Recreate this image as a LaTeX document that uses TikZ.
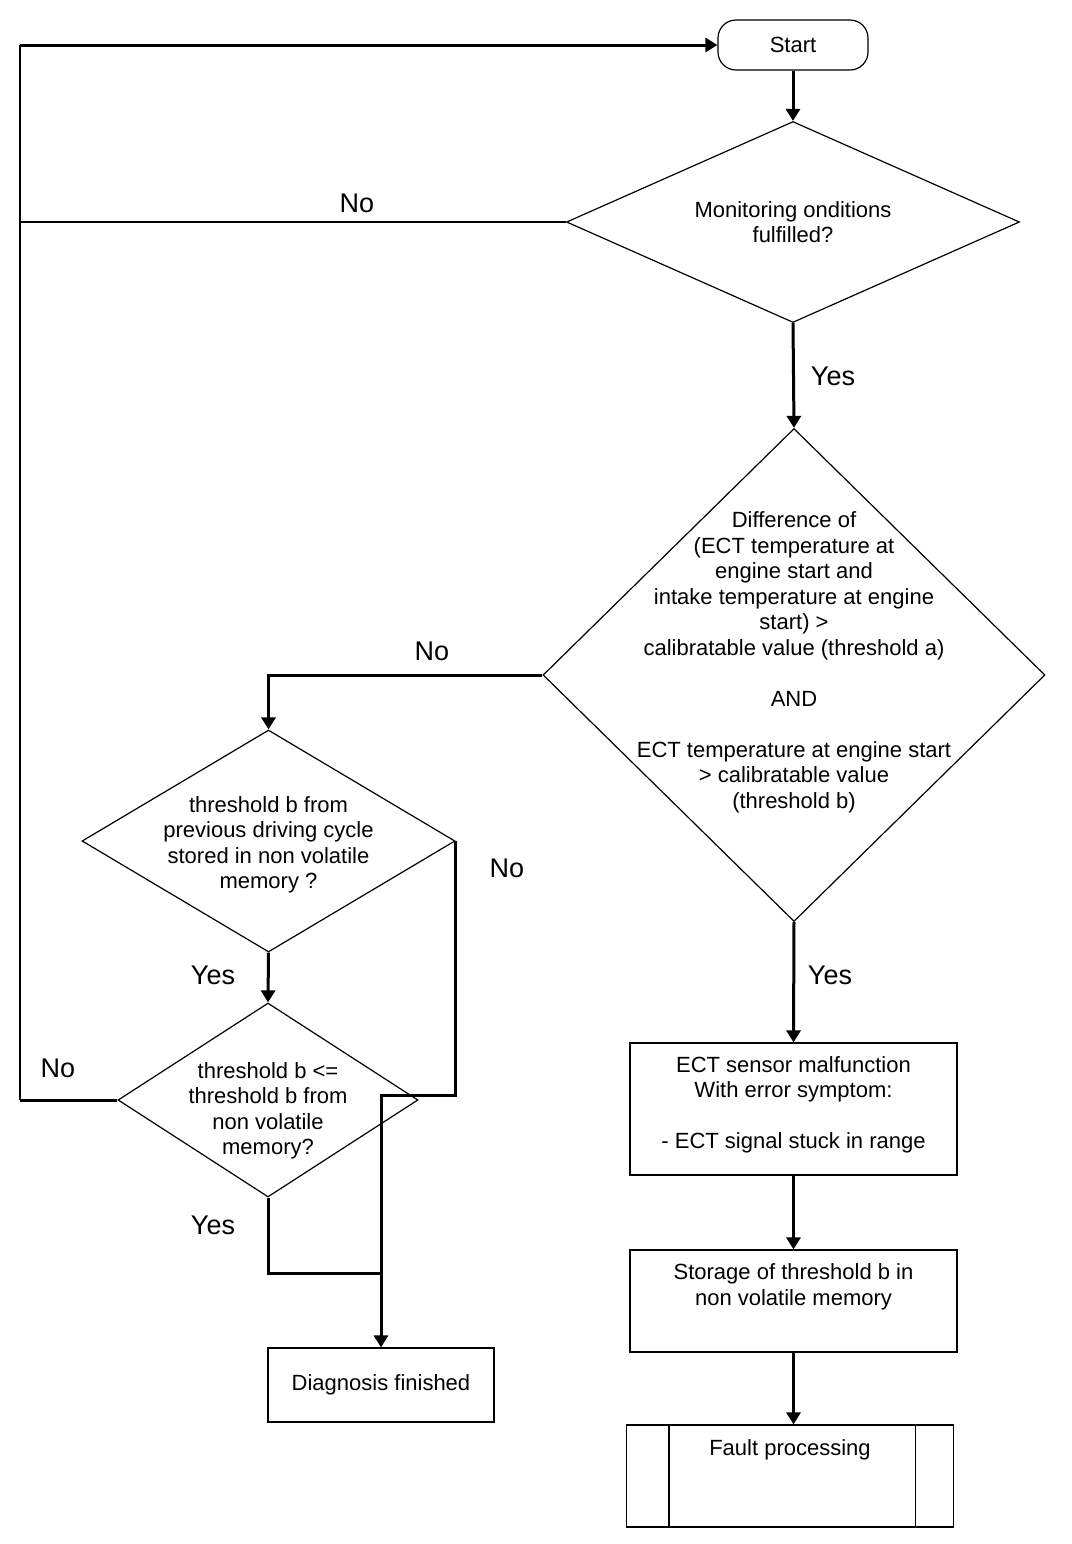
\documentclass[tikz,border=0pt]{standalone}
\usepackage{fontspec}
\setmainfont{Liberation Sans}
\usetikzlibrary{shapes.geometric,arrows.meta,calc}
\begin{document}
\begin{tikzpicture}[x=0.5pt,y=-0.5pt,
  shp/.style={draw,line width=0.6pt,inner sep=0pt},
  dia/.style={shp,diamond},
  box/.style={shp,rectangle},
  txt/.style={align=center,font=\fontsize{11}{12.75}\selectfont,inner sep=0pt},
  lbl/.style={font=\fontsize{13.5}{15}\selectfont,inner sep=0pt},
  flow/.style={line width=1.5pt},
  thinflow/.style={line width=0.6pt},
  arr/.style={flow,-{Triangle[length=6pt,width=7pt]}}]
\useasboundingbox (0,0) rectangle (1072,1544);

% nodes
\node[shp,rounded corners=9pt,minimum width=75pt,minimum height=25pt,
      font=\fontsize{11}{12.75}\selectfont] (start) at (793,45) {Start};

\node[dia,minimum width=226.5pt,minimum height=100.5pt] (d1) at (793,222) {};
\node[txt] (t1) at (d1) {Monitoring onditions\\fulfilled?};

\node[dia,minimum width=251pt,minimum height=246.5pt] (d2) at (794,675) {};
\node[txt] (t2) at ([yshift=6.25pt]d2.center) {Difference of\\(ECT temperature at\\engine start and\\intake temperature at engine\\start) >\\calibratable value (threshold a)\\[12.75pt]AND\\[12.75pt]ECT temperature at engine start\\> calibratable value\\(threshold b)};

\node[dia,minimum width=186.5pt,minimum height=111pt] (d3) at (268.5,841) {};
\node[txt] (t3) at ([yshift=-2pt]d3.center) {threshold b from\\previous driving cycle\\stored in non volatile\\memory ?};

\node[dia,minimum width=150pt,minimum height=97pt] (d4) at (268,1100) {};
\node[txt] (t4) at ([yshift=-5.5pt]d4.center) {threshold b <=\\threshold b from\\non volatile\\memory?};

\node[box,minimum width=113pt,minimum height=37pt] (diag) at (381,1385) {};
\node[txt] (t5) at (diag) {Diagnosis finished};

\node[box,minimum width=163.5pt,minimum height=66pt] (ect) at (793.5,1109) {};
\node[txt] (t6) at ([yshift=2pt]ect.center) {ECT sensor malfunction\\With error symptom:\\[12.75pt]- ECT signal stuck in range};

\node[box,minimum width=163.5pt,minimum height=51pt] (stor) at (793.5,1301) {};
\node[txt] (t7) at ([yshift=-18.75pt]stor.north) {Storage of threshold b in\\non volatile memory};

\node[box,minimum width=163.5pt,minimum height=51pt] (fault) at (790,1476) {};
\draw[line width=1pt] ([xshift=21.5pt]fault.north west) -- ([xshift=21.5pt]fault.south west);
\draw[line width=0.6pt] ([xshift=-19.5pt]fault.north east) -- ([xshift=-19.5pt]fault.south east);
\node[txt] (t8) at ([yshift=-12.5pt]fault.north) {Fault processing};

% junction coordinates
\coordinate (L0) at (20,45);
\coordinate (j1) at (381,1095);
\coordinate (j2) at (381,1273);

% connectors
\draw[arr] (L0) -- (start.west);
\draw[arr] (start.south) -- (d1.north);
\draw[thinflow] (d1.west) -- (d1.west -| L0);
\draw[arr] (d1.south) -- (d2.north);
\draw[arr] (d2.west) -| (d3.north);
\draw[arr] (d3.south) -- (d4.north);
\draw[arr] (d3.east) |- (j1) -- (diag.north);
\draw[flow] (d4.south) |- (j2);
\draw[flow] (d4.west) -- (d4.west -| L0);
\draw[thinflow] (d4.west -| L0) -- (L0);
\draw[arr] (d2.south) -- (ect.north);
\draw[arr] (ect.south) -- (stor.north);
\draw[arr] (stor.south) -- (stor.south |- fault.north);

% labels
\node[lbl] (n1) at (357,203) {No};
\node[lbl] (y1) at (833,376) {Yes};
\node[lbl] (n2) at (432,651) {No};
\node[lbl] (n3) at (507,868) {No};
\node[lbl] (y2) at (213,975) {Yes};
\node[lbl] (n4) at (58,1068) {No};
\node[lbl] (y3) at (213,1225) {Yes};
\node[lbl] (y4) at (830,975) {Yes};
\end{tikzpicture}
\end{document}
